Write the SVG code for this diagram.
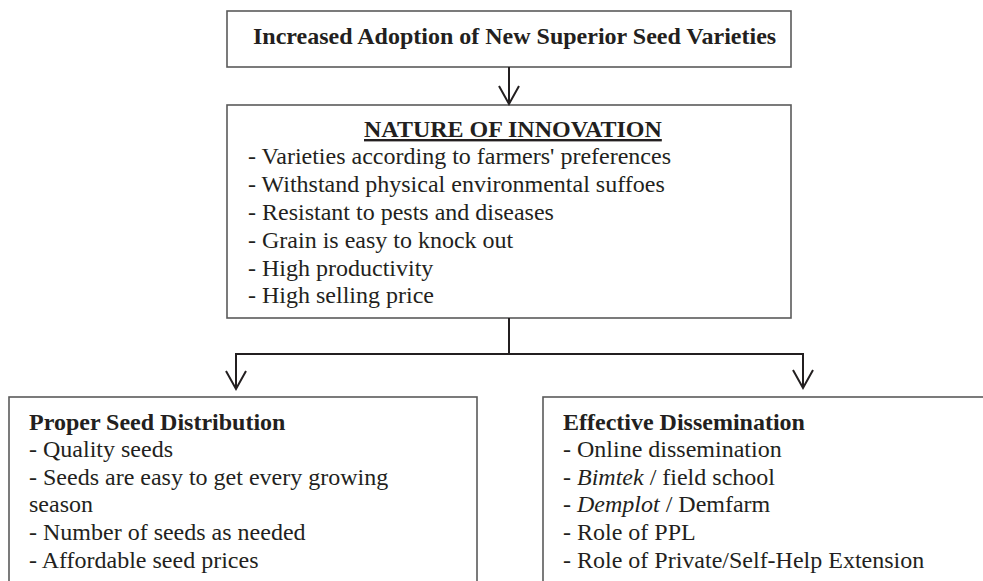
<svg xmlns="http://www.w3.org/2000/svg" width="983" height="581" viewBox="0 0 983 581">
<style>
.box{fill:#fff;stroke:#5a5a5a;stroke-width:1.6}
.t{font-family:"Liberation Serif","Times New Roman",serif;font-size:24px;fill:#231f20}
.b{font-weight:bold}
.c{fill:none;stroke:#231f20;stroke-width:2}
</style>
<rect width="983" height="581" fill="#fff"/>
<g id="top">
<rect class="box" x="227" y="11" width="564" height="56"/>
<text class="t b" x="253" y="44">Increased Adoption of New Superior Seed Varieties</text>
</g>
<g id="nature">
<rect class="box" x="227" y="105" width="564" height="213"/>
<text class="t b" x="364" y="137" text-decoration="underline">NATURE OF INNOVATION</text>
<text class="t" x="248" y="164">- Varieties according to farmers' preferences</text>
<text class="t" x="248" y="192">- Withstand physical environmental suffoes</text>
<text class="t" x="248" y="220">- Resistant to pests and diseases</text>
<text class="t" x="248" y="248">- Grain is easy to knock out</text>
<text class="t" x="248" y="276">- High productivity</text>
<text class="t" x="248" y="303">- High selling price</text>
</g>
<g id="distribution">
<rect class="box" x="9" y="397" width="468" height="200"/>
<text class="t b" x="29" y="430">Proper Seed Distribution</text>
<text class="t" x="29" y="457">- Quality seeds</text>
<text class="t" x="29" y="485">- Seeds are easy to get every growing</text>
<text class="t" x="29" y="512">season</text>
<text class="t" x="29" y="540">- Number of seeds as needed</text>
<text class="t" x="29" y="568">- Affordable seed prices</text>
</g>
<g id="dissemination">
<rect class="box" x="543" y="397" width="460" height="200"/>
<text class="t b" x="563" y="430">Effective Dissemination</text>
<text class="t" x="563" y="457">- Online dissemination</text>
<text class="t" x="563" y="485">- <tspan font-style="italic">Bimtek</tspan> / field school</text>
<text class="t" x="563" y="512">- <tspan font-style="italic">Demplot</tspan> / Demfarm</text>
<text class="t" x="563" y="540">- Role of PPL</text>
<text class="t" x="563" y="568">- Role of Private/Self-Help Extension</text>
</g>
<g id="connectors">
<path class="c" d="M509 67V104M499 86L509 104L519 86"/>
<path class="c" d="M509 318V354M236 389V354H803V388"/>
<path class="c" d="M226 371L236 389L246 371M793 370L803 388L813 370"/>
</g>
</svg>
